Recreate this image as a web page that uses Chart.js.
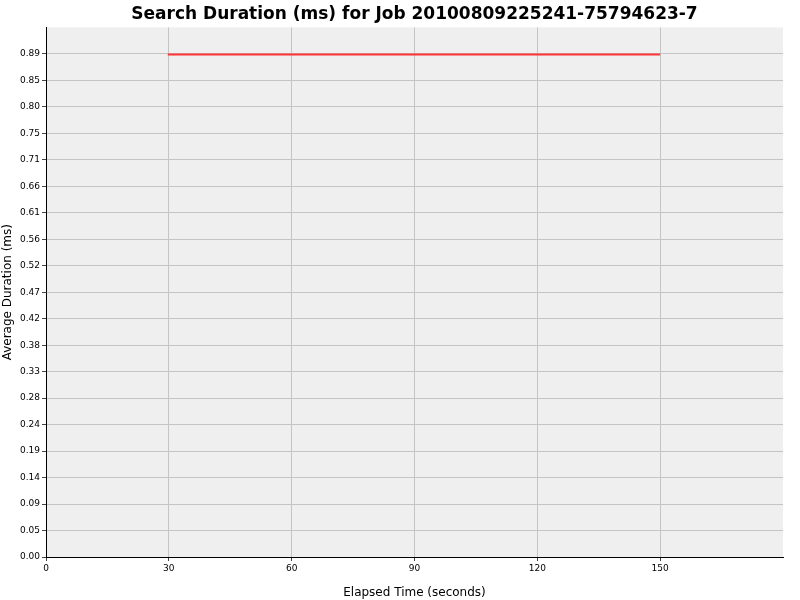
<!DOCTYPE html>
<html>
<head>
<meta charset="utf-8">
<script src="https://cdn.jsdelivr.net/npm/chart.js@4/dist/chart.umd.min.js"></script>
<style>
  body { margin: 0; background: #fff; }
  canvas { display: block; }
</style>
</head>
<body>
<canvas id="chart" width="800" height="600"></canvas>
<script>
// Chart data
const elapsedSeconds = [30, 52, 60, 90, 120, 150];
const avgDurationMs = [0.890, 0.892, 0.892, 0.892, 0.892, 0.892];

// Axis ticks
const xTicks = [0, 30, 60, 90, 120, 150];
const yTickValues = [0, 0.047, 0.094, 0.141, 0.188, 0.235, 0.282, 0.329, 0.376, 0.423,
  0.470, 0.517, 0.564, 0.611, 0.658, 0.705, 0.752, 0.799, 0.846, 0.893];
const yTickLabels = ["0.00", "0.05", "0.09", "0.14", "0.19", "0.24", "0.28", "0.33", "0.38", "0.42",
  "0.47", "0.52", "0.56", "0.61", "0.66", "0.71", "0.75", "0.80", "0.85", "0.89"];

const FONT = "'DejaVu Sans', Verdana, sans-serif";

// Paint the grey plot background behind everything
const plotBackground = {
  id: "plotBackground",
  beforeDraw(chart) {
    const { ctx, chartArea: a } = chart;
    ctx.save();
    ctx.fillStyle = "#efefef";
    ctx.fillRect(a.left, a.top, a.right - a.left, a.bottom - a.top);
    ctx.restore();
  }
};

new Chart(document.getElementById("chart").getContext("2d"), {
  type: "line",
  data: {
    datasets: [{
      data: elapsedSeconds.map((x, i) => ({ x: x, y: avgDurationMs[i] })),
      borderColor: "#ff3333",
      borderWidth: 2,
      pointRadius: 0,
      stepped: "after",
      fill: false
    }]
  },
  options: {
    responsive: false,
    animation: false,
    devicePixelRatio: 1,
    layout: { padding: { left: 0, right: 17, top: 0, bottom: 0 } },
    plugins: {
      legend: { display: false },
      tooltip: { enabled: false },
      title: {
        display: true,
        fullSize: false,
        text: "Search Duration (ms) for Job 20100809225241-75794623-7",
        color: "#000",
        font: { family: FONT, size: 17, weight: "bold", lineHeight: 1.2 },
        padding: { top: 4, bottom: 3 }
      }
    },
    scales: {
      x: {
        type: "linear",
        min: 0,
        max: 180,
        afterBuildTicks: (scale) => { scale.ticks = xTicks.map(v => ({ value: v })); },
        afterFit: (scale) => { scale.height = 43; },
        ticks: {
          color: "#000",
          font: { family: FONT, size: 9 },
          padding: 2,
          maxRotation: 0,
          autoSkip: false
        },
        grid: { color: "#c4c4c4", lineWidth: 1, tickLength: 4, tickColor: "#444" },
        border: { display: true, color: "#000", width: 1 },
        title: {
          display: true,
          text: "Elapsed Time (seconds)",
          color: "#000",
          font: { family: FONT, size: 12 },
          padding: { top: 2, bottom: 0 }
        }
      },
      y: {
        type: "linear",
        min: 0,
        max: 0.94,
        afterBuildTicks: (scale) => { scale.ticks = yTickValues.map(v => ({ value: v })); },
        afterFit: (scale) => { scale.width = 46; },
        ticks: {
          color: "#000",
          font: { family: FONT, size: 9 },
          padding: 2,
          autoSkip: false,
          callback: (value, index) => yTickLabels[index]
        },
        grid: { color: "#c4c4c4", lineWidth: 1, tickLength: 4, tickColor: "#444" },
        border: { display: true, color: "#000", width: 1 },
        title: {
          display: true,
          text: "Average Duration (ms)",
          color: "#000",
          font: { family: FONT, size: 12 },
          padding: { top: 1, bottom: 0 }
        }
      }
    }
  },
  plugins: [plotBackground]
});
</script>
</body>
</html>
